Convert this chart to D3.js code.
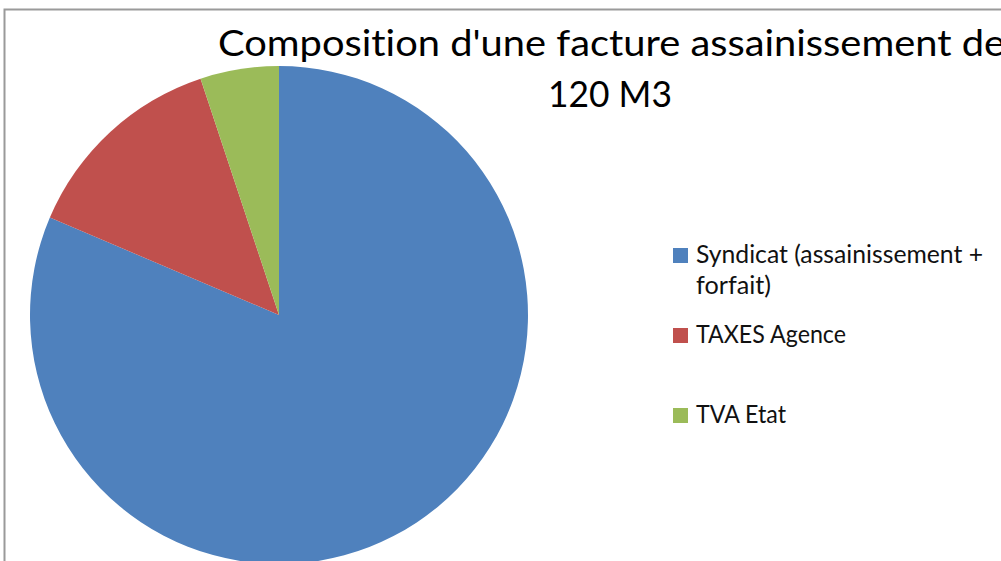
<!DOCTYPE html>
<html>
<head>
<meta charset="utf-8">
<script src="https://cdn.jsdelivr.net/npm/d3@7"></script>
<style>
  html, body { margin: 0; padding: 0; background: #fff; overflow: hidden; }
  svg { display: block; }
  text { font-variant-ligatures: none; font-feature-settings: "liga" 0, "clig" 0; }
</style>
</head>
<body>
<svg id="chart" width="1001" height="561"></svg>
<script>
const categories = ["Syndicat (assainissement + forfait)", "TAXES Agence", "TVA Etat"];
const values = [81.4, 13.5, 5.1];
const colors = ["#4F81BD", "#C0504D", "#9BBB59"];
const titleLines = ["Composition d'une facture assainissement de", "120 M3"];
const legendLines = [["Syndicat (assainissement +", "forfait)"], ["TAXES Agence"], ["TVA Etat"]];

const svg = d3.select("#chart");
const font = "Lato, 'Open Sans', sans-serif";

// chart area border
svg.append("rect")
  .attr("x", 4.5).attr("y", 9.5)
  .attr("width", 1100).attr("height", 700)
  .attr("fill", "#fff")
  .attr("stroke", "#9a9a9a").attr("stroke-width", 2);

// pie
const cx = 279, cy = 315, r = 249;
const pie = d3.pie().sort(null).value(d => d.v);
const arc = d3.arc().innerRadius(0).outerRadius(r);
const data = categories.map((c, i) => ({ c, v: values[i], col: colors[i] }));
const g = svg.append("g").attr("transform", `translate(${cx},${cy})`);
g.selectAll("path").data(pie(data)).enter().append("path")
  .attr("d", arc)
  .attr("fill", d => d.data.col);

// title
const titleSpecs = [
  { y: 56, len: 787, cx: 611.5 },
  { y: 107, len: 124, cx: 610 }
];
titleLines.forEach((t, i) => {
  svg.append("text")
    .attr("x", titleSpecs[i].cx).attr("y", titleSpecs[i].y)
    .attr("text-anchor", "middle")
    .attr("font-family", font).attr("font-size", 37)
    .attr("fill", "#000")
    .attr("textLength", titleSpecs[i].len)
    .attr("lengthAdjust", "spacingAndGlyphs")
    .text(t);
});

// legend
const legendSpecs = [
  { baselines: [263, 294], lens: [287, 75], sq: 248 },
  { baselines: [343], lens: [150], sq: 328 },
  { baselines: [423], lens: [90], sq: 408 }
];
const lg = svg.append("g");
legendLines.forEach((lines, i) => {
  const s = legendSpecs[i];
  lg.append("rect")
    .attr("x", 673).attr("y", s.sq)
    .attr("width", 15).attr("height", 15)
    .attr("fill", colors[i]);
  lines.forEach((ln, j) => {
    lg.append("text")
      .attr("x", 696).attr("y", s.baselines[j])
      .attr("font-family", font).attr("font-size", 25)
      .attr("fill", "#111")
      .attr("textLength", s.lens[j])
      .attr("lengthAdjust", "spacingAndGlyphs")
      .text(ln);
  });
});
</script>
</body>
</html>
